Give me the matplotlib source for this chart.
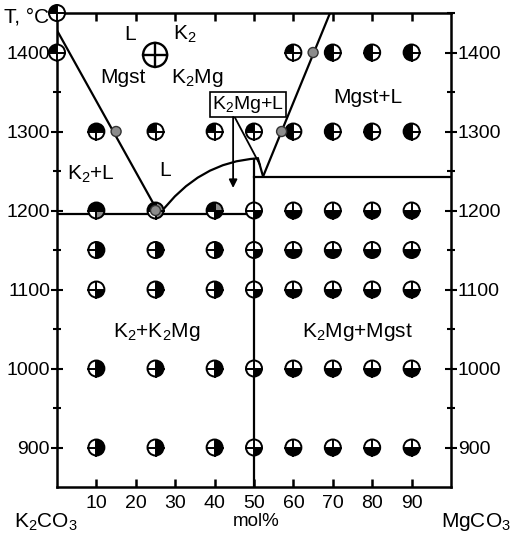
import matplotlib
matplotlib.use("Agg")
import matplotlib.pyplot as plt
from matplotlib.patches import Wedge, Circle, PathPatch
from matplotlib.path import Path
from matplotlib.lines import Line2D
from matplotlib.transforms import ScaledTranslation

plt.rcParams['font.family'] = 'Liberation Sans'
plt.rcParams['mathtext.fontset'] = 'custom'
plt.rcParams['mathtext.rm'] = 'Liberation Sans'

# experimental points (x = mol% MgCO3, T in C)
# phases per quadrant: L (top-left), K2 (top-right), Mgst (bottom-left), K2Mg (bottom-right)
# b = black, g = grey, 0 = empty
pt_x = [0, 0, 60, 70, 80, 90,
        10, 25, 40, 50, 60, 70, 80, 90,
        10, 25, 40, 50, 60, 70, 80, 90,
        10, 25, 40, 50, 60, 70, 80, 90,
        10, 25, 40, 50, 60, 70, 80, 90,
        10, 25, 40, 50, 60, 70, 80, 90,
        10, 25, 40, 50, 60, 70, 80, 90]
pt_t = [1450, 1400, 1400, 1400, 1400, 1400,
        1300, 1300, 1300, 1300, 1300, 1300, 1300, 1300,
        1200, 1200, 1200, 1200, 1200, 1200, 1200, 1200,
        1150, 1150, 1150, 1150, 1150, 1150, 1150, 1150,
        1100, 1100, 1100, 1100, 1100, 1100, 1100, 1100,
        1000, 1000, 1000, 1000, 1000, 1000, 1000, 1000,
        900, 900, 900, 900, 900, 900, 900, 900]
pt_ph = ["b000", "b000", "b000", "b0b0", "b0b0", "b0b0",
         "bb00", "b000", "b000", "b000", "b0b0", "b0b0", "b0b0", "b0b0",
         "bb0g", "bg0g", "bg0b", "000b", "00bb", "00bb", "00bb", "00bb",
         "0b0b", "0b0b", "0b0b", "000b", "00bb", "00bb", "00bb", "00bb",
         "000b", "0b0b", "0b0b", "000b", "00bb", "00bb", "00bb", "00bb",
         "0b0b", "0b0b", "0b0b", "000b", "00bb", "00bb", "00bb", "00bb",
         "0b0b", "0b0b", "0b0b", "000b", "00bb", "00bb", "00bb", "00bb"]

# liquidus points (grey dots)
liq_x = [15, 25, 65, 57]
liq_t = [1300, 1200, 1400, 1300]

# phase boundaries
left_liq_x = [0, 26]
left_liq_t = [1428, 1195]
right_liq_x = [52.3, 69.3]
right_liq_t = [1243, 1450]
eut_x = [0, 50]
eut_t = [1195, 1195]
per_x = [50, 100]
per_t = [1243, 1243]
k2mg_x = [50, 50]
k2mg_t = [850, 1265]
# dome (K2Mg liquidus), quadratic bezier: start, control, end
dome_x = [26, 36, 51]
dome_t = [1195, 1262, 1266]

fig = plt.figure(figsize=(5.11, 5.41), dpi=100)
ax = fig.add_axes([57 / 511, 1 - 487 / 541, 394 / 511, 474 / 541])
ax.set_xlim(0, 100)
ax.set_ylim(850, 1450)
ax.autoscale(False)

lw = 1.6
ax.plot(left_liq_x, left_liq_t, color='black', lw=lw)
ax.plot(right_liq_x, right_liq_t, color='black', lw=lw)
ax.plot(eut_x, eut_t, color='black', lw=lw)
ax.plot(per_x, per_t, color='black', lw=lw)
ax.plot(k2mg_x, k2mg_t, color='black', lw=lw)
dome = Path(list(zip(dome_x, dome_t)), [Path.MOVETO, Path.CURVE3, Path.CURVE3])
ax.add_patch(PathPatch(dome, fill=False, lw=lw, ec='black'))
ax.plot([51, 52.3], [1266, 1243], color='black', lw=lw)

colors = {'b': 'black', 'g': '#8c8c8c', '0': 'white'}
quads = [(90, 180), (0, 90), (180, 270), (270, 360)]


def marker(x, t, phases, r, lwc=1.4):
    tr = fig.dpi_scale_trans + ScaledTranslation(x, t, ax.transData)
    for (a1, a2), p in zip(quads, phases):
        ax.add_patch(Wedge((0, 0), r, a1, a2, transform=tr, fc=colors[p],
                           ec='none', clip_on=False, zorder=5))
    ax.add_patch(Circle((0, 0), r, transform=tr, fill=False, lw=lwc,
                        ec='black', clip_on=False, zorder=6))
    ax.add_line(Line2D([-r, r], [0, 0], transform=tr, color='black', lw=lwc,
                       clip_on=False, zorder=6))
    ax.add_line(Line2D([0, 0], [-r, r], transform=tr, color='black', lw=lwc,
                       clip_on=False, zorder=6))


for x, t, ph in zip(pt_x, pt_t, pt_ph):
    marker(x, t, ph, 0.08)

for x, t in zip(liq_x, liq_t):
    tr = fig.dpi_scale_trans + ScaledTranslation(x, t, ax.transData)
    ax.add_patch(Circle((0, 0), 0.05, transform=tr, fc='#8c8c8c', ec='#333333',
                        lw=1, zorder=7))

# legend symbol
marker(24.9, 1397, "0000", 0.12, lwc=1.7)
fs = 15
ax.text(18.5, 1423, 'L', fontsize=fs, ha='center', va='center')
ax.text(32.5, 1423, r'$\mathregular{K_2}$', fontsize=fs, ha='center', va='center')
ax.text(16.8, 1368, 'Mgst', fontsize=fs, ha='center', va='center')
ax.text(35.5, 1368, r'$\mathregular{K_2Mg}$', fontsize=fs, ha='center', va='center')

# field labels
ax.text(8.5, 1246, r'$\mathregular{K_2{+}L}$', fontsize=fs, ha='center', va='center')
ax.text(27.4, 1251, 'L', fontsize=fs, ha='center', va='center')
ax.text(48.5, 1334, r'$\mathregular{K_2Mg{+}L}$', fontsize=fs - 1, ha='center', va='center',
        bbox=dict(boxstyle='square,pad=0.12', fc='white', ec='black', lw=1.2))
ax.text(79, 1343, 'Mgst+L', fontsize=fs, ha='center', va='center')
ax.text(25.4, 1046, r'$\mathregular{K_2{+}K_2Mg}$', fontsize=fs, ha='center', va='center')
ax.text(76.4, 1046, r'$\mathregular{K_2Mg{+}Mgst}$', fontsize=fs, ha='center', va='center')

# pointers from the boxed label
ax.annotate('', xy=(44.7, 1225), xytext=(44.7, 1322),
            arrowprops=dict(arrowstyle='-|>', color='black', lw=1.3, mutation_scale=12))
ax.plot([44.7, 51.5], [1322, 1258], color='black', lw=1.3)

# axes
for s in ax.spines.values():
    s.set_linewidth(1.8)
ax.set_xticks(range(10, 100, 10))
ax.set_yticks(range(900, 1401, 100))
ax.set_yticks(range(950, 1451, 100), minor=True)
ax.tick_params(axis='x', direction='in', top=True, length=6, width=1.8,
               labelsize=14, pad=6)
ax.tick_params(axis='y', which='both', direction='inout', right=True,
               labelright=True, length=8, width=1.5, labelsize=14, pad=1)
ax.tick_params(axis='y', which='minor', length=6)

fig.text(27 / 511, 1 - 17 / 541, 'T, °C', fontsize=fs, ha='center', va='center')
fig.text(46 / 511, 1 - 522 / 541, r'$\mathregular{K_2CO_3}$', fontsize=fs, ha='center', va='center')
fig.text(256 / 511, 1 - 522 / 541, 'mol%', fontsize=13.5, ha='center', va='center')
fig.text(476 / 511, 1 - 522 / 541, r'$\mathregular{MgCO_3}$', fontsize=fs, ha='center', va='center')

fig.savefig('out.png', dpi=100)
